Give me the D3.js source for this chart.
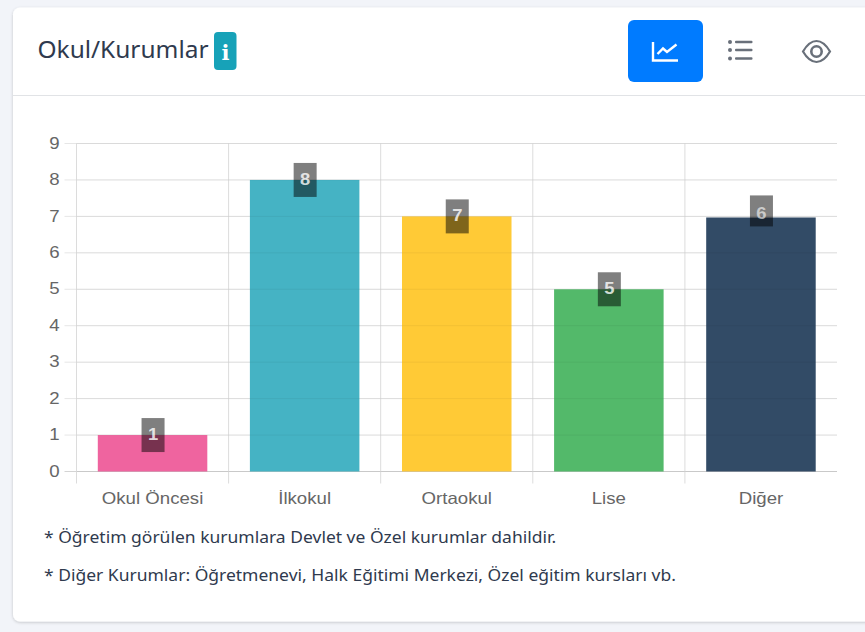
<!DOCTYPE html>
<html>
<head>
<meta charset="utf-8">
<script src="https://cdn.jsdelivr.net/npm/d3@7"></script>
<style>
  html, body { margin: 0; padding: 0; background: #f2f4f9; overflow: hidden; }
  svg { display: block; }
</style>
</head>
<body>
<div id="chart"></div>
<script>
const categories = ["Okul Öncesi", "İlkokul", "Ortaokul", "Lise", "Diğer"];
const values = [1, 8, 7, 5, 6.97];
const labels = ["1", "8", "7", "5", "6"];
const labelAnchors = [1, 8, 7, 5, 7.15];
const barColors = ["#ef649f", "#45b3c4", "#ffca36", "#53b96a", "#324b66"];
const yTicks = [0, 1, 2, 3, 4, 5, 6, 7, 8, 9];
const notes = [
    "* Öğretim görülen kurumlara Devlet ve Özel kurumlar dahildir.",
    "* Diğer Kurumlar: Öğretmenevi, Halk Eğitimi Merkezi, Özel eğitim kursları vb."
];

const W = 865, H = 632;
const plot = { left: 76.5, right: 837, top: 143.5, bottom: 471.5 };

const svg = d3.select("#chart").append("svg")
    .attr("width", W)
    .attr("height", H);

// card
const defs = svg.append("defs");
const shadow = defs.append("filter").attr("id", "cardShadow")
    .attr("x", "-5%").attr("y", "-5%").attr("width", "110%").attr("height", "110%");
shadow.append("feDropShadow")
    .attr("dx", 0).attr("dy", 1).attr("stdDeviation", 1.5)
    .attr("flood-color", "#000").attr("flood-opacity", 0.2);

svg.append("rect")
    .attr("x", 13).attr("y", 7.5)
    .attr("width", 880).attr("height", 614)
    .attr("rx", 7)
    .attr("fill", "#fff")
    .attr("filter", "url(#cardShadow)");

svg.append("line")
    .attr("x1", 13).attr("x2", W)
    .attr("y1", 95.5).attr("y2", 95.5)
    .attr("stroke", "#e1e3e6");

// header
svg.append("text")
    .attr("transform", "translate(37.5,58) scale(1.04,1)")
    .attr("font-family", "'Noto Sans', sans-serif")
    .attr("font-size", 23.5)
    .attr("fill", "#2f3a4e")
    .text("Okul/Kurumlar");

svg.append("rect")
    .attr("x", 214).attr("y", 32)
    .attr("width", 22.5).attr("height", 38)
    .attr("rx", 4)
    .attr("fill", "#17a2b8");
svg.append("text")
    .attr("x", 225.5).attr("y", 60)
    .attr("text-anchor", "middle")
    .attr("font-family", "'DejaVu Serif', serif")
    .attr("font-weight", "bold")
    .attr("font-size", 21)
    .attr("fill", "#fff")
    .text("i");

svg.append("rect")
    .attr("x", 628).attr("y", 20)
    .attr("width", 75).attr("height", 62)
    .attr("rx", 6)
    .attr("fill", "#007bff");

// chart-line icon
svg.append("path")
    .attr("d", "M653 42V60.5H678 M657.5 54L663 48.5L667 52L676.5 44.5")
    .attr("fill", "none")
    .attr("stroke", "#fff")
    .attr("stroke-width", 2.4);

// list icon
const listIcon = svg.append("g").attr("fill", "#69707a");
[42, 50, 58.5].forEach(y => {
    listIcon.append("circle").attr("cx", 730).attr("cy", y).attr("r", 2);
    listIcon.append("rect").attr("x", 735).attr("y", y - 1.3)
        .attr("width", 17.5).attr("height", 2.6).attr("rx", 1);
});

// eye icon
const eyeIcon = svg.append("g").attr("fill", "none").attr("stroke", "#69707a");
eyeIcon.append("path")
    .attr("d", "M803 51.5C808 43 812 41 816.5 41C821 41 825 43 830 51.5C825 60 821 62 816.5 62C812 62 808 60 803 51.5Z")
    .attr("stroke-width", 2.2);
eyeIcon.append("circle")
    .attr("cx", 816.5).attr("cy", 51.5).attr("r", 5.2)
    .attr("stroke-width", 2.6);

// scales
const x = d3.scaleBand()
    .domain(categories)
    .range([plot.left, plot.right])
    .paddingInner(0.28)
    .paddingOuter(0.14);

const xBounds = d3.scaleLinear()
    .domain([0, categories.length])
    .range([plot.left, plot.right]);

const y = d3.scaleLinear()
    .domain([0, 9])
    .range([plot.bottom, plot.top]);

// the reference text is stretched sideways
const textStretch = 1.13;

// y axis + horizontal grid
const yAxis = svg.append("g")
    .attr("transform", `translate(${plot.left},0)`)
    .call(d3.axisLeft(y).tickValues(yTicks).tickSize(0).tickPadding(15).tickFormat(d3.format("d")));
yAxis.select(".domain").remove();
yAxis.selectAll("text")
    .attr("font-family", "'Liberation Sans', Arial, sans-serif")
    .attr("font-size", 16.5)
    .attr("fill", "#666")
    .attr("dy", "0.28em")
    .attr("transform", `scale(${textStretch},1)`);

svg.append("g").selectAll("line")
    .data(yTicks)
    .join("line")
    .attr("x1", plot.left - 12)
    .attr("x2", plot.right)
    .attr("y1", d => y(d))
    .attr("y2", d => y(d))
    .attr("stroke", d => d === 0 ? "#d4d4d4" : "#e6e6e6");

// vertical grid
svg.append("g").selectAll("line")
    .data(d3.range(categories.length))
    .join("line")
    .attr("x1", d => xBounds(d))
    .attr("x2", d => xBounds(d))
    .attr("y1", plot.top)
    .attr("y2", plot.bottom + 12)
    .attr("stroke", "#dcdcdc");

// bars
svg.append("g").selectAll("rect")
    .data(categories)
    .join("rect")
    .attr("x", d => x(d))
    .attr("y", (d, i) => y(values[i]))
    .attr("width", x.bandwidth())
    .attr("height", (d, i) => y(0) - y(values[i]))
    .attr("fill", (d, i) => barColors[i]);

// grid shows faintly over the bars
svg.append("g").selectAll("line")
    .data(yTicks)
    .join("line")
    .attr("x1", plot.left)
    .attr("x2", plot.right)
    .attr("y1", d => y(d))
    .attr("y2", d => y(d))
    .attr("stroke", "#000")
    .attr("stroke-opacity", 0.05);

// x labels
const xAxis = svg.append("g")
    .attr("transform", `translate(0,${plot.bottom})`)
    .call(d3.axisBottom(x).tickSize(0).tickPadding(21));
xAxis.select(".domain").remove();
xAxis.selectAll("text")
    .attr("font-family", "'Liberation Sans', Arial, sans-serif")
    .attr("font-size", 16.5)
    .attr("fill", "#666")
    .attr("transform", `scale(${textStretch},1)`);

// value labels
const valueLabels = svg.append("g").selectAll("g")
    .data(categories)
    .join("g")
    .attr("transform", (d, i) => `translate(${x(d) + x.bandwidth() / 2},${y(labelAnchors[i])})`);

valueLabels.append("rect")
    .attr("x", -11)
    .attr("y", (d, i) => i === 4 ? -15.5 : -17)
    .attr("width", 23)
    .attr("height", (d, i) => i === 4 ? 31 : 34)
    .attr("fill", "#000")
    .attr("fill-opacity", 0.5);

valueLabels.append("text")
    .attr("transform", (d, i) => `translate(0.5,${i === 4 ? 8 : 5}) scale(1.15,1)`)
    .attr("text-anchor", "middle")
    .attr("font-family", "'Liberation Sans', Arial, sans-serif")
    .attr("font-weight", "bold")
    .attr("font-size", 16)
    .attr("fill", "#fff")
    .attr("fill-opacity", (d, i) => i === 4 ? 0.6 : 0.8)
    .text((d, i) => labels[i]);

// footnotes
svg.append("g").selectAll("text")
    .data(notes)
    .join("text")
    .attr("transform", (d, i) => `translate(44,${543 + i * 38}) scale(1.06,1)`)
    .attr("font-family", "'Noto Sans', sans-serif")
    .attr("font-size", 16.5)
    .attr("fill", "#2f3a4e")
    .text(d => d);
</script>
</body>
</html>
